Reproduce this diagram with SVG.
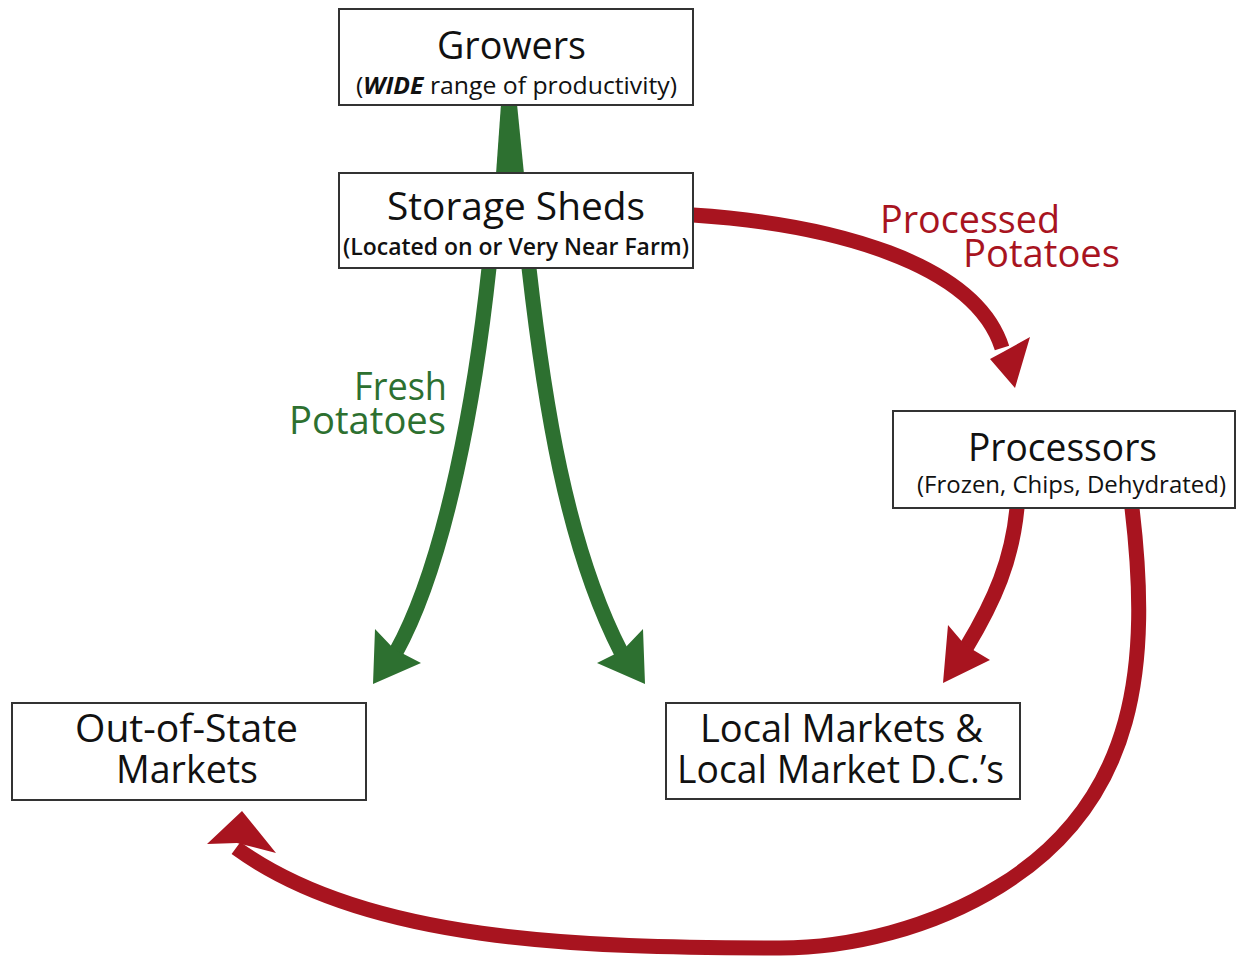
<svg xmlns="http://www.w3.org/2000/svg" width="1236" height="957" viewBox="0 0 1236 957">
  <style>
    .box { fill: #ffffff; stroke: #333333; stroke-width: 2; }
    .title { font-family: "Open Sans", "Liberation Sans", sans-serif; font-size: 38px; fill: #111111; text-anchor: middle; }
    .sub { font-family: "Open Sans", "Liberation Sans", sans-serif; font-size: 24px; fill: #111111; text-anchor: middle; }
    .green { fill: none; stroke: #2d7030; stroke-width: 15; }
    .red { fill: none; stroke: #a8141f; stroke-width: 15; }
    .gfill { fill: #2d7030; }
    .rfill { fill: #a8141f; }
    .glabel { font-family: "Open Sans", "Liberation Sans", sans-serif; font-size: 38px; fill: #2d7030; text-anchor: end; }
    .rlabel { font-family: "Open Sans", "Liberation Sans", sans-serif; font-size: 38px; fill: #a8141f; }
  </style>

  <rect width="1236" height="957" fill="#ffffff"/>

  <g id="connectors">
    <!-- growers to storage: tapered band -->
    <polygon class="gfill" points="501,104 517,104 524,174 496,174"/>

    <!-- fresh potatoes: storage to out-of-state -->
    <path class="green" d="M489,268 C476,390 447,560 396,652"/>
    <polygon class="gfill" points="373,684 375,629 394,649 421,663"/>

    <!-- fresh potatoes: storage to local markets -->
    <path class="green" d="M529,268 C544,400 566,545 621,652"/>
    <polygon class="gfill" points="645,684 643,629 623,650 597,663"/>

    <!-- processed potatoes: storage to processors -->
    <path class="red" d="M693,215 C830,224 975,262 1002,348"/>
    <polygon class="rfill" points="1015,388 1030,337 1003,352 990,359"/>

    <!-- processors to local markets -->
    <path class="red" d="M1017,508 C1012,560 995,600 966,648"/>
    <polygon class="rfill" points="943,683 948,625 965,645 990,660"/>

    <!-- processors to out-of-state markets -->
    <path class="red" d="M1132,508 C1150,660 1140,800 1000,886 C932,928 850,948 780,948 C580,948 365,942 236,848"/>
    <polygon class="rfill" points="242,811 276,853 237,843 207,844"/>
  </g>

  <g id="growers">
    <rect class="box" x="339" y="9" width="354" height="96"/>
    <text class="title" x="511.5" y="59" textLength="149" lengthAdjust="spacingAndGlyphs">Growers</text>
    <text class="sub" x="516.5" y="94" textLength="321" lengthAdjust="spacingAndGlyphs">(<tspan font-weight="bold" font-style="italic">WIDE</tspan> range of productivity)</text>
  </g>

  <g id="storage-sheds">
    <rect class="box" x="339" y="173" width="354" height="95"/>
    <text class="title" x="516" y="220" textLength="258" lengthAdjust="spacingAndGlyphs">Storage Sheds</text>
    <text class="sub" x="516" y="255" font-size="23" font-weight="600" textLength="346" lengthAdjust="spacingAndGlyphs">(Located on or Very Near Farm)</text>
  </g>

  <g id="processors">
    <rect class="box" x="893" y="411" width="342" height="97"/>
    <text class="title" x="1062.5" y="461" textLength="189" lengthAdjust="spacingAndGlyphs">Processors</text>
    <text class="sub" x="1071.5" y="493" textLength="309" lengthAdjust="spacingAndGlyphs">(Frozen, Chips, Dehydrated)</text>
  </g>

  <g id="out-of-state">
    <rect class="box" x="12" y="703" width="354" height="97"/>
    <text class="title" x="186.5" y="742" textLength="223" lengthAdjust="spacingAndGlyphs">Out-of-State</text>
    <text class="title" x="187" y="783" textLength="142" lengthAdjust="spacingAndGlyphs">Markets</text>
  </g>

  <g id="local-markets">
    <rect class="box" x="666" y="703" width="354" height="96"/>
    <text class="title" x="841.5" y="742" textLength="283" lengthAdjust="spacingAndGlyphs">Local Markets &amp;</text>
    <text class="title" x="840.5" y="783" textLength="327" lengthAdjust="spacingAndGlyphs">Local Market D.C.’s</text>
  </g>

  <g id="labels">
    <text class="glabel" x="447" y="400" textLength="93" lengthAdjust="spacingAndGlyphs">Fresh</text>
    <text class="glabel" x="446" y="434" textLength="157" lengthAdjust="spacingAndGlyphs">Potatoes</text>
    <text class="rlabel" x="880" y="233" textLength="180" lengthAdjust="spacingAndGlyphs">Processed</text>
    <text class="rlabel" x="963" y="267" textLength="157" lengthAdjust="spacingAndGlyphs">Potatoes</text>
  </g>
</svg>
